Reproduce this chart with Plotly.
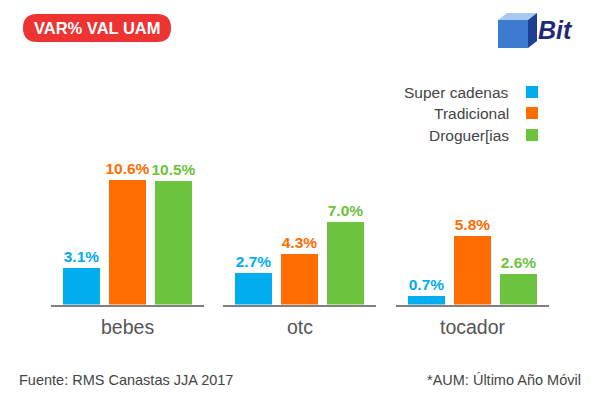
import plotly.graph_objects as go
from plotly.subplots import make_subplots

categories = ["bebes", "otc", "tocador"]
series_names = ["Super cadenas", "Tradicional", "Droguer[ias"]
colors = ["#00AEEF", "#FF6C00", "#6CC33E"]
values = {
    "bebes": [3.1, 10.6, 10.5],
    "otc": [2.7, 4.3, 7.0],
    "tocador": [0.7, 5.8, 2.6],
}
title_text = "VAR% VAL UAM"
source_text = "Fuente: RMS Canastas JJA 2017"
note_text = "*AUM: Último Año Móvil"

OFF = 8  # page body margin
W, H = 600 - OFF, 400 - OFF


def px(x):
    return (x - OFF) / W


def py(y):
    return (H - (y - OFF)) / H


domains_px = [(51, 204), (223, 376), (396, 549)]
base_px = 304.5
ymax = 12.0
top_px = base_px - ymax * 11.8
label_font = "Liberation Sans, Arial, sans-serif"

fig = make_subplots(rows=1, cols=3)
for i, cat in enumerate(categories):
    col = i + 1
    fig.add_trace(go.Bar(
        x=[0, 1, 2], y=values[cat],
        marker=dict(color=colors, line=dict(width=0)),
        width=0.815,
        text=[f"<b>{v:.1f}%</b>" for v in values[cat]],
        textposition="outside",
        constraintext="none",
        textfont=dict(family=label_font, size=15.5, color=colors),
        cliponaxis=False,
        showlegend=False,
        hoverinfo="skip",
    ), row=1, col=col)
    d0, d1 = domains_px[i]
    xa = "xaxis" if i == 0 else f"xaxis{col}"
    ya = "yaxis" if i == 0 else f"yaxis{col}"
    fig.layout[xa].update(domain=[px(d0), px(d1)], range=[-0.663, 2.663],
                          showline=True, linecolor="#808080", linewidth=2,
                          showticklabels=False, ticks="", showgrid=False, zeroline=False, fixedrange=True)
    fig.layout[ya].update(domain=[py(base_px), py(top_px)], range=[0, ymax],
                          visible=False, showgrid=False, zeroline=False, fixedrange=True)
    fig.add_annotation(x=px((d0 + d1) / 2), y=py(327), xref="paper", yref="paper",
                       text=cat, showarrow=False, xanchor="center", yanchor="middle",
                       font=dict(family="Liberation Sans, Arial", size=19.5, color="#555555"))

# legend (text left of squares)
leg_y = [92, 113, 135]
for name, c, yy in zip(series_names, colors, leg_y):
    fig.add_annotation(x=px(511), y=py(yy), xref="paper", yref="paper",
                       text=name, showarrow=False, xanchor="right", yanchor="middle",
                       font=dict(family="Liberation Sans, Arial", size=15.5, color="#444444"))
    fig.add_shape(type="rect", xref="paper", yref="paper",
                  x0=px(526), x1=px(538), y0=py(yy + 6), y1=py(yy - 6),
                  fillcolor=c, line=dict(width=0))

# title pill
fig.add_shape(type="path", xref="paper", yref="paper",
              path=f"M {px(37)} {py(14)} L {px(157)} {py(14)} "
                   f"Q {px(171)} {py(14)} {px(171)} {py(28)} Q {px(171)} {py(42)} {px(157)} {py(42)} "
                   f"L {px(37)} {py(42)} Q {px(23)} {py(42)} {px(23)} {py(28)} Q {px(23)} {py(14)} {px(37)} {py(14)} Z",
              fillcolor="#EE3333", line=dict(width=0))
fig.add_annotation(x=px(97), y=py(28.5), xref="paper", yref="paper",
                   text=f"<b>{title_text}</b>", showarrow=False, xanchor="center", yanchor="middle",
                   font=dict(family="Liberation Sans, Arial", size=16.5, color="white"))

# logo approximation
fig.add_shape(type="rect", xref="paper", yref="paper", x0=px(498), x1=px(528),
              y0=py(48), y1=py(20), fillcolor="#3C7BD0", line=dict(width=0))
fig.add_shape(type="path", xref="paper", yref="paper",
              path=f"M {px(498)} {py(20)} L {px(507)} {py(13)} L {px(537)} {py(13)} L {px(528)} {py(20)} Z",
              fillcolor="#A8C8F0", line=dict(width=0))
fig.add_shape(type="path", xref="paper", yref="paper",
              path=f"M {px(528)} {py(20)} L {px(537)} {py(13)} L {px(537)} {py(41)} L {px(528)} {py(48)} Z",
              fillcolor="#1F3F8F", line=dict(width=0))
fig.add_annotation(x=px(555), y=py(30), xref="paper", yref="paper",
                   text="<b><i>Bit</i></b>", showarrow=False, xanchor="center", yanchor="middle",
                   font=dict(family="Liberation Sans, Arial", size=25, color="#1E2A78"))

# footer
fig.add_annotation(x=px(17), y=py(380), xref="paper", yref="paper",
                   text=source_text, showarrow=False, xanchor="left", yanchor="middle",
                   font=dict(family="Liberation Sans, Arial", size=14.5, color="#444444"))
fig.add_annotation(x=px(583), y=py(380), xref="paper", yref="paper",
                   text=note_text, showarrow=False, xanchor="right", yanchor="middle",
                   font=dict(family="Liberation Sans, Arial", size=14.5, color="#444444"))

fig.update_layout(width=W, height=H, margin=dict(l=0, r=0, t=0, b=0),
                  paper_bgcolor="white", plot_bgcolor="white", bargap=0)
fig.write_html("out.html")
